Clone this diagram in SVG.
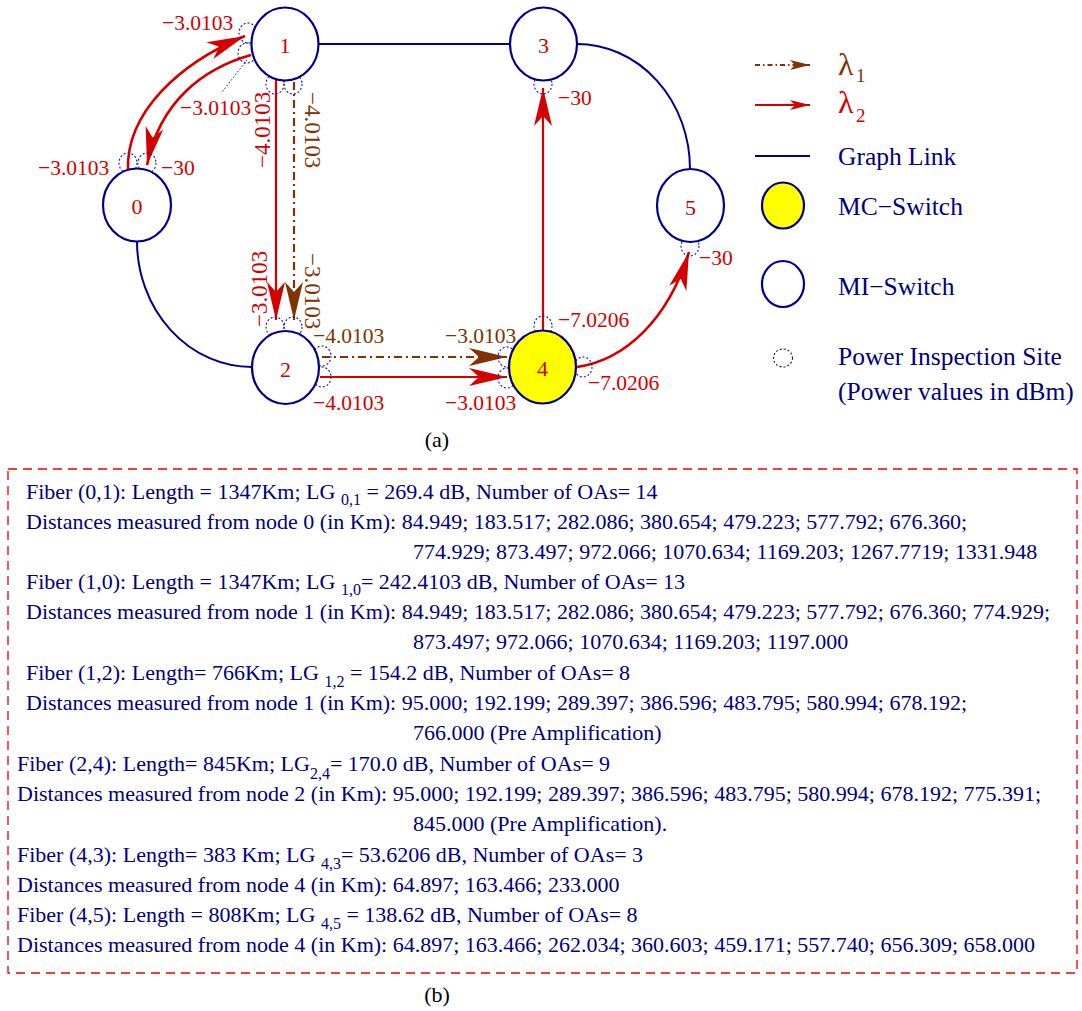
<svg xmlns="http://www.w3.org/2000/svg" width="1082" height="1011" viewBox="0 0 1082 1011">
<style>
text { font-family: "Liberation Serif", "Times New Roman", serif; }
.node { fill: #ffffff; stroke: #000090; stroke-width: 2.2; }
.mc { fill: #ffff00; }
.link { fill: none; stroke: #000090; stroke-width: 2; }
.red { fill: none; stroke: #d40000; stroke-width: 2.2; }
.redc { fill: none; stroke: #d40000; stroke-width: 2.6; }
.brown { fill: none; stroke: #803300; stroke-width: 2.2; stroke-dasharray: 8 4 2 4; }
.insp { fill: none; stroke: #1010b0; stroke-width: 1.1; stroke-dasharray: 2 2; }
.lead { fill: none; stroke: #1010b0; stroke-width: 1; stroke-dasharray: 1.5 2; }
.lbl { font-size: 21.5px; fill: #d40000; }
.rot { font-size: 23px; }
.lb { fill: #803300; }
.nlab { font-size: 22px; fill: #cc0000; text-anchor: middle; }
.leg { font-size: 25.5px; fill: #000080; }
.lam { font-size: 32px; }
.lsub { font-size: 19px; }
.box { font-size: 22px; fill: #000080; }
.sub { font-size: 16px; }
.cap { font-size: 22px; fill: #000000; text-anchor: middle; }
</style>
<defs>
<marker id="ahR" viewBox="-40 -10 42 20" refX="0" refY="0" markerWidth="42" markerHeight="20" markerUnits="userSpaceOnUse" orient="auto">
<path d="M0,0 L-38,-9 L-28,0 L-38,9 Z" fill="#d40000" stroke="none"/>
</marker>
<marker id="ahB" viewBox="-40 -10 42 20" refX="0" refY="0" markerWidth="42" markerHeight="20" markerUnits="userSpaceOnUse" orient="auto">
<path d="M0,0 L-38,-9 L-28,0 L-38,9 Z" fill="#803300" stroke="none"/>
</marker>
<marker id="ahRs" viewBox="-22 -6 24 12" refX="0" refY="0" markerWidth="24" markerHeight="12" markerUnits="userSpaceOnUse" orient="auto">
<path d="M0,0 L-20,-5 L-15,0 L-20,5 Z" fill="#d40000" stroke="none"/>
</marker>
<marker id="ahBs" viewBox="-22 -6 24 12" refX="0" refY="0" markerWidth="24" markerHeight="12" markerUnits="userSpaceOnUse" orient="auto">
<path d="M0,0 L-20,-5 L-15,0 L-20,5 Z" fill="#803300" stroke="none"/>
</marker>
</defs>
<rect width="1082" height="1011" fill="#ffffff"/>

<g id="connectors">
<line class="link" x1="318" y1="44" x2="510" y2="44"/>
<path class="link" d="M577,44 A113,125 0 0 1 690,169"/>
<path class="link" d="M137,241 A115,126 0 0 0 252,367"/>
<path class="redc" d="M128,170 C126,112 180,63 245,36" marker-end="url(#ahR)"/>
<path class="redc" d="M251,55 C205,68 160,100 147,165" marker-end="url(#ahR)"/>
<line class="red" x1="276" y1="80" x2="276" y2="320" marker-end="url(#ahR)"/>
<line class="brown" x1="294" y1="82" x2="294" y2="320" marker-end="url(#ahB)"/>
<line class="brown" x1="322" y1="357" x2="507" y2="357" marker-end="url(#ahB)"/>
<line class="red" x1="320" y1="377" x2="507" y2="377" marker-end="url(#ahR)"/>
<line class="red" x1="543" y1="331" x2="543" y2="88" marker-end="url(#ahR)"/>
<path class="redc" d="M577,367 C625,360 668,320 689,252" marker-end="url(#ahR)"/>
<line class="lead" x1="247" y1="60" x2="222" y2="92"/>
</g>

<g id="inspection-sites">
<ellipse class="insp" cx="248" cy="33" rx="9" ry="10"/>
<ellipse class="insp" cx="247" cy="53" rx="9" ry="10"/>
<ellipse class="insp" cx="275" cy="84" rx="9" ry="10"/>
<ellipse class="insp" cx="293" cy="84" rx="9" ry="10"/>
<ellipse class="insp" cx="128" cy="163" rx="9" ry="10"/>
<ellipse class="insp" cx="147" cy="163" rx="9" ry="10"/>
<ellipse class="insp" cx="275" cy="327" rx="9" ry="10"/>
<ellipse class="insp" cx="293" cy="327" rx="9" ry="10"/>
<ellipse class="insp" cx="322" cy="356" rx="9" ry="10"/>
<ellipse class="insp" cx="322" cy="377" rx="9" ry="10"/>
<ellipse class="insp" cx="507" cy="357" rx="9" ry="10"/>
<ellipse class="insp" cx="507" cy="378" rx="9" ry="10"/>
<ellipse class="insp" cx="543" cy="326" rx="9" ry="10"/>
<ellipse class="insp" cx="583" cy="367" rx="9" ry="10"/>
<ellipse class="insp" cx="543" cy="84" rx="9" ry="10"/>
<ellipse class="insp" cx="690" cy="246" rx="9" ry="10"/>
</g>

<g id="node0"><ellipse class="node" cx="137" cy="205" rx="34" ry="36.5"/><text class="nlab" x="137" y="214">0</text></g>
<g id="node1"><ellipse class="node" cx="285" cy="44" rx="33.5" ry="36.5"/><text class="nlab" x="285" y="53">1</text></g>
<g id="node2"><ellipse class="node" cx="285.5" cy="367.5" rx="33.5" ry="36.5"/><text class="nlab" x="285.5" y="377">2</text></g>
<g id="node3"><ellipse class="node" cx="543.5" cy="44" rx="33.5" ry="36.5"/><text class="nlab" x="543.5" y="53">3</text></g>
<g id="node4"><ellipse class="node mc" cx="542.5" cy="367" rx="33.5" ry="36.5"/><text class="nlab" x="542.5" y="376">4</text></g>
<g id="node5"><ellipse class="node" cx="690.5" cy="205.5" rx="33.5" ry="36.5"/><text class="nlab" x="690.5" y="215">5</text></g>

<g id="power-labels">
<text class="lbl" x="162" y="30">−3.0103</text>
<text class="lbl" x="180" y="115">−3.0103</text>
<text class="lbl" x="38" y="175">−3.0103</text>
<text class="lbl" x="161" y="175">−30</text>
<text class="lbl rot" transform="translate(270,168) rotate(-90)">−4.0103</text>
<text class="lbl rot lb" transform="translate(305,92) rotate(90)">−4.0103</text>
<text class="lbl rot" transform="translate(267,327) rotate(-90)">−3.0103</text>
<text class="lbl rot lb" transform="translate(305,253) rotate(90)">−3.0103</text>
<text class="lbl lb" x="313" y="343">−4.0103</text>
<text class="lbl lb" x="445" y="343">−3.0103</text>
<text class="lbl" x="313" y="410">−4.0103</text>
<text class="lbl" x="445" y="410">−3.0103</text>
<text class="lbl" x="558" y="327">−7.0206</text>
<text class="lbl" x="588" y="390">−7.0206</text>
<text class="lbl" x="699" y="265">−30</text>
<text class="lbl" x="558" y="105">−30</text>
</g>

<g id="legend">
<line class="brown" x1="755" y1="65" x2="810" y2="65" style="stroke-dasharray:5 3 1.5 3" marker-end="url(#ahBs)"/>
<text class="leg lam" x="838" y="75" style="fill:#803300">λ</text>
<text class="leg lsub" x="856" y="82" style="fill:#803300">1</text>
<line class="red" x1="755" y1="105" x2="810" y2="105" marker-end="url(#ahRs)"/>
<text class="leg lam" x="838" y="113" style="fill:#d40000">λ</text>
<text class="leg lsub" x="856" y="122" style="fill:#d40000">2</text>
<line class="link" x1="755" y1="156" x2="810" y2="156"/>
<text class="leg" x="838" y="165">Graph Link</text>
<ellipse class="node mc" cx="783" cy="205.5" rx="21" ry="23"/>
<text class="leg" x="838" y="215">MC−Switch</text>
<ellipse class="node" cx="783" cy="284" rx="21" ry="23"/>
<text class="leg" x="838" y="295">MI−Switch</text>
<ellipse class="insp" cx="783" cy="358" rx="9.5" ry="9"/>
<text class="leg" x="838" y="365">Power Inspection Site</text>
<text class="leg" x="838" y="400">(Power values in dBm)</text>
</g>

<text class="cap" x="437" y="447">(a)</text>

<g id="fiber-table">
<rect x="8" y="469" width="1069" height="504" fill="none" stroke="#e80000" stroke-width="1.3" stroke-dasharray="9 6"/>
<text class="box" x="26" y="499">Fiber (0,1): Length = 1347Km; LG <tspan class="sub" dy="6">0,1</tspan><tspan dy="-6"> = 269.4 dB, Number of OAs= 14</tspan></text>
<text class="box" x="26" y="529">Distances measured from node 0 (in Km): 84.949; 183.517; 282.086; 380.654; 479.223; 577.792; 676.360;</text>
<text class="box" x="413" y="559">774.929; 873.497; 972.066; 1070.634; 1169.203; 1267.7719; 1331.948</text>
<text class="box" x="26" y="589">Fiber (1,0): Length = 1347Km; LG <tspan class="sub" dy="6">1,0</tspan><tspan dy="-6">= 242.4103 dB, Number of OAs= 13</tspan></text>
<text class="box" x="26" y="619">Distances measured from node 1 (in Km): 84.949; 183.517; 282.086; 380.654; 479.223; 577.792; 676.360; 774.929;</text>
<text class="box" x="413" y="649">873.497; 972.066; 1070.634; 1169.203; 1197.000</text>
<text class="box" x="26" y="680">Fiber (1,2): Length= 766Km; LG <tspan class="sub" dy="7">1,2</tspan><tspan dy="-7"> = 154.2 dB, Number of OAs= 8</tspan></text>
<text class="box" x="26" y="710">Distances measured from node 1 (in Km): 95.000; 192.199; 289.397; 386.596; 483.795; 580.994; 678.192;</text>
<text class="box" x="413" y="740">766.000 (Pre Amplification)</text>
<text class="box" x="17" y="771">Fiber (2,4): Length= 845Km; LG<tspan class="sub" dy="8">2,4</tspan><tspan dy="-8">= 170.0 dB, Number of OAs= 9</tspan></text>
<text class="box" x="17" y="801">Distances measured from node 2 (in Km): 95.000; 192.199; 289.397; 386.596; 483.795; 580.994; 678.192; 775.391;</text>
<text class="box" x="413" y="831">845.000 (Pre Amplification).</text>
<text class="box" x="17" y="862">Fiber (4,3): Length= 383 Km; LG <tspan class="sub" dy="7">4,3</tspan><tspan dy="-7">= 53.6206 dB, Number of OAs= 3</tspan></text>
<text class="box" x="17" y="892">Distances measured from node 4 (in Km): 64.897; 163.466; 233.000</text>
<text class="box" x="17" y="922">Fiber (4,5): Length = 808Km; LG <tspan class="sub" dy="7">4,5</tspan><tspan dy="-7"> = 138.62 dB, Number of OAs= 8</tspan></text>
<text class="box" x="17" y="952">Distances measured from node 4 (in Km): 64.897; 163.466; 262.034; 360.603; 459.171; 557.740; 656.309; 658.000</text>
</g>

<text class="cap" x="437" y="1002">(b)</text>
</svg>
